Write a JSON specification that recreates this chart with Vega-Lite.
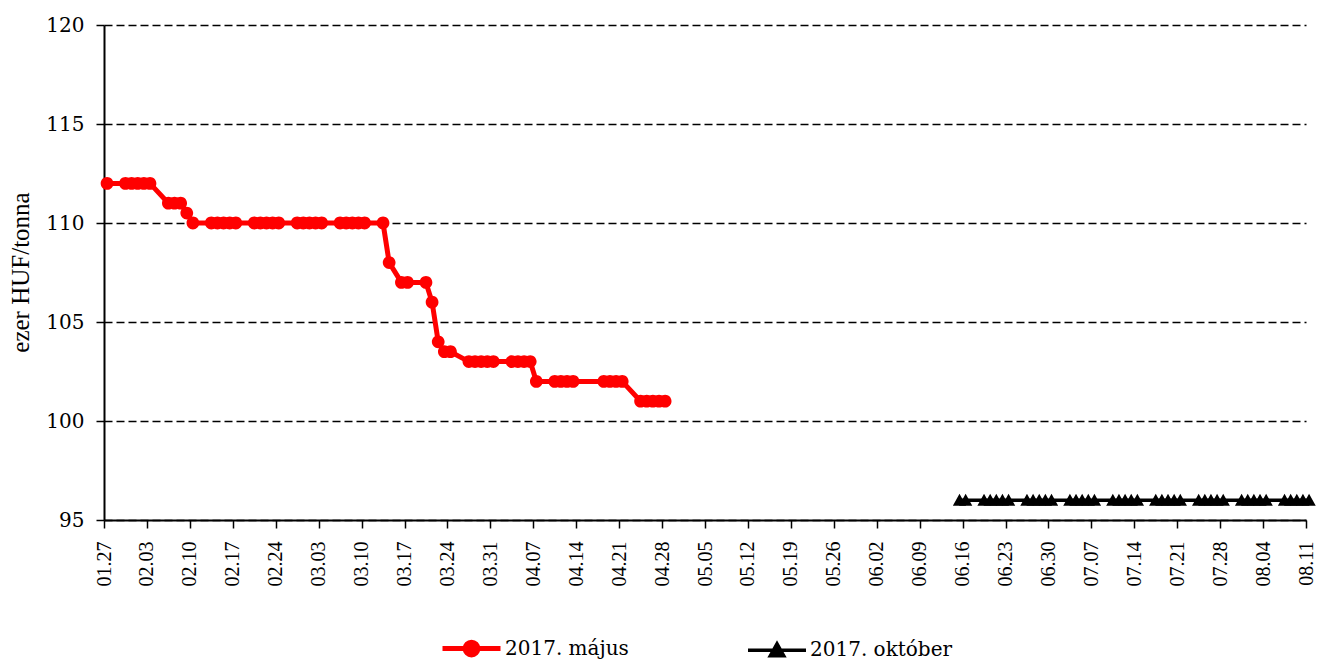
{
  "$schema": "https://vega.github.io/schema/vega-lite/v6.json",
  "width": 1202,
  "height": 495,
  "autosize": "none",
  "padding": {"left": 104, "top": 25, "right": 12, "bottom": 141},
  "background": "white",
  "config": {
    "view": {"stroke": null},
    "axis": {"labelColor": "black", "titleColor": "black", "domainColor": "black", "tickColor": "black", "labelFont": "Liberation Serif", "titleFont": "Liberation Serif", "titleFontWeight": "normal"}
  },
  "data": {
    "values": [
      {"date": "2017-01-27", "price": 112, "series": "2017. május"},
      {"date": "2017-01-30", "price": 112, "series": "2017. május"},
      {"date": "2017-01-31", "price": 112, "series": "2017. május"},
      {"date": "2017-02-01", "price": 112, "series": "2017. május"},
      {"date": "2017-02-02", "price": 112, "series": "2017. május"},
      {"date": "2017-02-03", "price": 112, "series": "2017. május"},
      {"date": "2017-02-06", "price": 111, "series": "2017. május"},
      {"date": "2017-02-07", "price": 111, "series": "2017. május"},
      {"date": "2017-02-08", "price": 111, "series": "2017. május"},
      {"date": "2017-02-09", "price": 110.5, "series": "2017. május"},
      {"date": "2017-02-10", "price": 110, "series": "2017. május"},
      {"date": "2017-02-13", "price": 110, "series": "2017. május"},
      {"date": "2017-02-14", "price": 110, "series": "2017. május"},
      {"date": "2017-02-15", "price": 110, "series": "2017. május"},
      {"date": "2017-02-16", "price": 110, "series": "2017. május"},
      {"date": "2017-02-17", "price": 110, "series": "2017. május"},
      {"date": "2017-02-20", "price": 110, "series": "2017. május"},
      {"date": "2017-02-21", "price": 110, "series": "2017. május"},
      {"date": "2017-02-22", "price": 110, "series": "2017. május"},
      {"date": "2017-02-23", "price": 110, "series": "2017. május"},
      {"date": "2017-02-24", "price": 110, "series": "2017. május"},
      {"date": "2017-02-27", "price": 110, "series": "2017. május"},
      {"date": "2017-02-28", "price": 110, "series": "2017. május"},
      {"date": "2017-03-01", "price": 110, "series": "2017. május"},
      {"date": "2017-03-02", "price": 110, "series": "2017. május"},
      {"date": "2017-03-03", "price": 110, "series": "2017. május"},
      {"date": "2017-03-06", "price": 110, "series": "2017. május"},
      {"date": "2017-03-07", "price": 110, "series": "2017. május"},
      {"date": "2017-03-08", "price": 110, "series": "2017. május"},
      {"date": "2017-03-09", "price": 110, "series": "2017. május"},
      {"date": "2017-03-10", "price": 110, "series": "2017. május"},
      {"date": "2017-03-13", "price": 110, "series": "2017. május"},
      {"date": "2017-03-14", "price": 108, "series": "2017. május"},
      {"date": "2017-03-16", "price": 107, "series": "2017. május"},
      {"date": "2017-03-17", "price": 107, "series": "2017. május"},
      {"date": "2017-03-20", "price": 107, "series": "2017. május"},
      {"date": "2017-03-21", "price": 106, "series": "2017. május"},
      {"date": "2017-03-22", "price": 104, "series": "2017. május"},
      {"date": "2017-03-23", "price": 103.5, "series": "2017. május"},
      {"date": "2017-03-24", "price": 103.5, "series": "2017. május"},
      {"date": "2017-03-27", "price": 103, "series": "2017. május"},
      {"date": "2017-03-28", "price": 103, "series": "2017. május"},
      {"date": "2017-03-29", "price": 103, "series": "2017. május"},
      {"date": "2017-03-30", "price": 103, "series": "2017. május"},
      {"date": "2017-03-31", "price": 103, "series": "2017. május"},
      {"date": "2017-04-03", "price": 103, "series": "2017. május"},
      {"date": "2017-04-04", "price": 103, "series": "2017. május"},
      {"date": "2017-04-05", "price": 103, "series": "2017. május"},
      {"date": "2017-04-06", "price": 103, "series": "2017. május"},
      {"date": "2017-04-07", "price": 102, "series": "2017. május"},
      {"date": "2017-04-10", "price": 102, "series": "2017. május"},
      {"date": "2017-04-11", "price": 102, "series": "2017. május"},
      {"date": "2017-04-12", "price": 102, "series": "2017. május"},
      {"date": "2017-04-13", "price": 102, "series": "2017. május"},
      {"date": "2017-04-18", "price": 102, "series": "2017. május"},
      {"date": "2017-04-19", "price": 102, "series": "2017. május"},
      {"date": "2017-04-20", "price": 102, "series": "2017. május"},
      {"date": "2017-04-21", "price": 102, "series": "2017. május"},
      {"date": "2017-04-24", "price": 101, "series": "2017. május"},
      {"date": "2017-04-25", "price": 101, "series": "2017. május"},
      {"date": "2017-04-26", "price": 101, "series": "2017. május"},
      {"date": "2017-04-27", "price": 101, "series": "2017. május"},
      {"date": "2017-04-28", "price": 101, "series": "2017. május"},
      {"date": "2017-06-15", "price": 96, "series": "2017. október"},
      {"date": "2017-06-16", "price": 96, "series": "2017. október"},
      {"date": "2017-06-19", "price": 96, "series": "2017. október"},
      {"date": "2017-06-20", "price": 96, "series": "2017. október"},
      {"date": "2017-06-21", "price": 96, "series": "2017. október"},
      {"date": "2017-06-22", "price": 96, "series": "2017. október"},
      {"date": "2017-06-23", "price": 96, "series": "2017. október"},
      {"date": "2017-06-26", "price": 96, "series": "2017. október"},
      {"date": "2017-06-27", "price": 96, "series": "2017. október"},
      {"date": "2017-06-28", "price": 96, "series": "2017. október"},
      {"date": "2017-06-29", "price": 96, "series": "2017. október"},
      {"date": "2017-06-30", "price": 96, "series": "2017. október"},
      {"date": "2017-07-03", "price": 96, "series": "2017. október"},
      {"date": "2017-07-04", "price": 96, "series": "2017. október"},
      {"date": "2017-07-05", "price": 96, "series": "2017. október"},
      {"date": "2017-07-06", "price": 96, "series": "2017. október"},
      {"date": "2017-07-07", "price": 96, "series": "2017. október"},
      {"date": "2017-07-10", "price": 96, "series": "2017. október"},
      {"date": "2017-07-11", "price": 96, "series": "2017. október"},
      {"date": "2017-07-12", "price": 96, "series": "2017. október"},
      {"date": "2017-07-13", "price": 96, "series": "2017. október"},
      {"date": "2017-07-14", "price": 96, "series": "2017. október"},
      {"date": "2017-07-17", "price": 96, "series": "2017. október"},
      {"date": "2017-07-18", "price": 96, "series": "2017. október"},
      {"date": "2017-07-19", "price": 96, "series": "2017. október"},
      {"date": "2017-07-20", "price": 96, "series": "2017. október"},
      {"date": "2017-07-21", "price": 96, "series": "2017. október"},
      {"date": "2017-07-24", "price": 96, "series": "2017. október"},
      {"date": "2017-07-25", "price": 96, "series": "2017. október"},
      {"date": "2017-07-26", "price": 96, "series": "2017. október"},
      {"date": "2017-07-27", "price": 96, "series": "2017. október"},
      {"date": "2017-07-28", "price": 96, "series": "2017. október"},
      {"date": "2017-07-31", "price": 96, "series": "2017. október"},
      {"date": "2017-08-01", "price": 96, "series": "2017. október"},
      {"date": "2017-08-02", "price": 96, "series": "2017. október"},
      {"date": "2017-08-03", "price": 96, "series": "2017. október"},
      {"date": "2017-08-04", "price": 96, "series": "2017. október"},
      {"date": "2017-08-07", "price": 96, "series": "2017. október"},
      {"date": "2017-08-08", "price": 96, "series": "2017. október"},
      {"date": "2017-08-09", "price": 96, "series": "2017. október"},
      {"date": "2017-08-10", "price": 96, "series": "2017. október"},
      {"date": "2017-08-11", "price": 96, "series": "2017. október"}
    ]
  },
  "encoding": {
    "x": {
      "field": "date",
      "type": "temporal",
      "timeUnit": "utcyearmonthdate",
      "bandPosition": 0.5,
      "title": null,
      "scale": {
        "domain": [
          {"year": 2017, "month": 1, "date": 27, "utc": true},
          {"year": 2017, "month": 8, "date": 11, "utc": true}
        ]
      },
      "axis": {
        "values": [
          {"year": 2017, "month": 1, "date": 27, "utc": true},
          {"year": 2017, "month": 2, "date": 3, "utc": true},
          {"year": 2017, "month": 2, "date": 10, "utc": true},
          {"year": 2017, "month": 2, "date": 17, "utc": true},
          {"year": 2017, "month": 2, "date": 24, "utc": true},
          {"year": 2017, "month": 3, "date": 3, "utc": true},
          {"year": 2017, "month": 3, "date": 10, "utc": true},
          {"year": 2017, "month": 3, "date": 17, "utc": true},
          {"year": 2017, "month": 3, "date": 24, "utc": true},
          {"year": 2017, "month": 3, "date": 31, "utc": true},
          {"year": 2017, "month": 4, "date": 7, "utc": true},
          {"year": 2017, "month": 4, "date": 14, "utc": true},
          {"year": 2017, "month": 4, "date": 21, "utc": true},
          {"year": 2017, "month": 4, "date": 28, "utc": true},
          {"year": 2017, "month": 5, "date": 5, "utc": true},
          {"year": 2017, "month": 5, "date": 12, "utc": true},
          {"year": 2017, "month": 5, "date": 19, "utc": true},
          {"year": 2017, "month": 5, "date": 26, "utc": true},
          {"year": 2017, "month": 6, "date": 2, "utc": true},
          {"year": 2017, "month": 6, "date": 9, "utc": true},
          {"year": 2017, "month": 6, "date": 16, "utc": true},
          {"year": 2017, "month": 6, "date": 23, "utc": true},
          {"year": 2017, "month": 6, "date": 30, "utc": true},
          {"year": 2017, "month": 7, "date": 7, "utc": true},
          {"year": 2017, "month": 7, "date": 14, "utc": true},
          {"year": 2017, "month": 7, "date": 21, "utc": true},
          {"year": 2017, "month": 7, "date": 28, "utc": true},
          {"year": 2017, "month": 8, "date": 4, "utc": true},
          {"year": 2017, "month": 8, "date": 11, "utc": true}
        ],
        "labelExpr": "utcFormat(datum.value, '%m.%d')",
        "labelAngle": -90,
        "labelAlign": "right",
        "labelBaseline": "middle",
        "labelFontSize": 20,
        "labelPadding": 13,
        "labelOverlap": false,
        "labelFlush": false,
        "tickSize": 8,
        "tickWidth": 1.5,
        "domainWidth": 2,
        "grid": false
      }
    },
    "y": {
      "field": "price",
      "type": "quantitative",
      "title": "ezer HUF/tonna",
      "scale": {"domain": [95, 120], "nice": false, "zero": false},
      "axis": {
        "values": [95, 100, 105, 110, 115, 120],
        "labelFont": "DejaVu Serif",
        "labelFontSize": 20,
        "labelPadding": 12,
        "tickSize": 8,
        "tickWidth": 1.5,
        "domainWidth": 2,
        "grid": true,
        "gridColor": "black",
        "gridDash": [8, 4],
        "gridWidth": 1.5,
        "gridOpacity": 1,
        "titleFontSize": 25,
        "titleX": -84,
        "titleY": 247,
        "titleAngle": -90,
        "titleAlign": "center",
        "titleBaseline": "middle"
      }
    },
    "color": {
      "field": "series",
      "type": "nominal",
      "scale": {"domain": ["2017. május", "2017. október"], "range": ["#ff0000", "#000000"]},
      "legend": {
        "orient": "none",
        "direction": "horizontal",
        "legendX": 336,
        "legendY": 592,
        "title": null,
        "labelFont": "DejaVu Serif",
        "labelFontSize": 20,
        "labelColor": "black",
        "labelOffset": 2,
        "columnPadding": 112,
        "symbolSize": 3364,
        "symbolStrokeWidth": 4
      }
    }
  },
  "layer": [
    {
      "mark": {"type": "line"},
      "encoding": {
        "strokeWidth": {
          "field": "series",
          "type": "nominal",
          "scale": {"domain": ["2017. május", "2017. október"], "range": [5, 3.5]},
          "legend": null
        }
      }
    },
    {
      "mark": {"type": "point", "filled": true, "opacity": 1, "size": 3364},
      "encoding": {
        "shape": {
          "field": "series",
          "type": "nominal",
          "scale": {
            "domain": ["2017. május", "2017. október"],
            "range": [
              "M-1,0L-0.22,0M0.22,0L1,0M-0.22,0A0.22,0.22 0 1 1 0.22,0A0.22,0.22 0 1 1 -0.22,0Z",
              "M-1,0L1,0M-0.23,0.19L0,-0.22L0.23,0.19Z"
            ]
          },
          "legend": {
            "orient": "none",
            "direction": "horizontal",
            "legendX": 336,
            "legendY": 592,
            "title": null,
            "labelFont": "DejaVu Serif",
            "labelFontSize": 20,
            "labelColor": "black",
            "labelOffset": 2,
            "columnPadding": 112,
            "symbolSize": 3364,
            "symbolStrokeWidth": 4
          }
        }
      }
    }
  ]
}
